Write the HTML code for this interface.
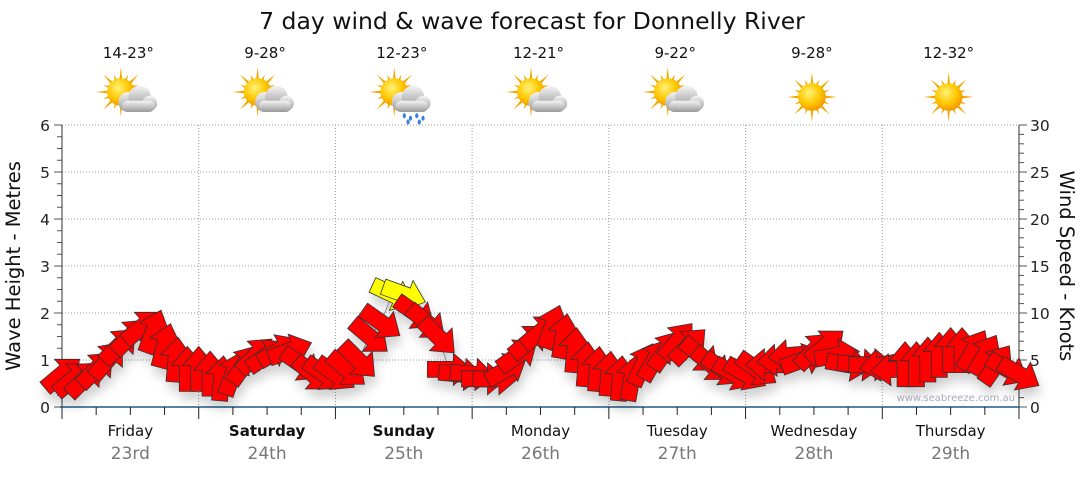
<!DOCTYPE html>
<html><head><meta charset="utf-8"><style>
body{margin:0;background:#fff;width:1080px;height:475px;overflow:hidden;font-family:"DejaVu Sans",sans-serif}
svg text{font-family:"DejaVu Sans",sans-serif}
</style></head><body>
<svg id="c" width="1080" height="475" xmlns="http://www.w3.org/2000/svg">
<defs>
<radialGradient id="sunG" cx="40%" cy="35%" r="65%"><stop offset="0" stop-color="#fff27a"/><stop offset="0.6" stop-color="#ffc800"/><stop offset="1" stop-color="#f29a00"/></radialGradient>
<linearGradient id="cloudG" x1="0" y1="0" x2="0" y2="1"><stop offset="0" stop-color="#f4f4f4"/><stop offset="1" stop-color="#999"/></linearGradient>
<filter id="sh" x="-50%" y="-50%" width="200%" height="200%"><feDropShadow dx="2" dy="8" stdDeviation="5" flood-color="#000" flood-opacity="0.18"/></filter>
</defs>
<text x="532" y="29" font-size="23.5" text-anchor="middle" fill="#111">7 day wind &amp; wave forecast for Donnelly River</text>
<g id="grid"></g><g id="axes"></g><g id="icons"></g><g id="marks" filter="url(#sh)"></g>
<text x="1015" y="401" font-size="10" text-anchor="end" fill="#aab">www.seabreeze.com.au</text>
<text transform="translate(20,266) rotate(-90)" font-size="19.5" text-anchor="middle" fill="#111">Wave Height - Metres</text>
<text transform="translate(1060,266) rotate(90)" font-size="19.5" text-anchor="middle" fill="#111">Wind Speed - Knots</text>
</svg>
<script>
const days=["Friday","Saturday","Sunday","Monday","Tuesday","Wednesday","Thursday"];
const dates=["23rd","24th","25th","26th","27th","28th","29th"];
const temps=["14-23°","9-28°","12-23°","12-21°","9-22°","9-28°","12-32°"];
const weather=["cloud","cloud","rain","cloud","cloud","sun","sun"];
const leftTicks=[0,1,2,3,4,5,6];
const rightTicks=[0,5,10,15,20,25,30];
// wave height every 2 hours (85 points)
const waveHeight=[0.7,0.6,0.6,0.8,1.0,1.3,1.5,1.7,1.6,1.3,1.0,0.8,
0.8,0.7,0.6,0.7,0.9,1.1,1.1,1.2,1.2,0.9,0.7,0.7,
0.7,0.8,1.0,1.5,1.8,2.4,2.4,2.0,1.8,1.5,0.8,0.7,
0.7,0.6,0.6,0.8,1.1,1.4,1.6,1.7,1.5,1.2,0.9,0.8,
0.7,0.6,0.6,0.9,1.0,1.2,1.4,1.3,1.1,0.9,0.8,0.7,
0.7,0.8,0.9,1.0,1.1,1.0,1.2,1.3,1.1,0.9,0.9,0.9,
0.9,0.8,0.9,0.9,1.0,1.1,1.2,1.2,1.2,1.1,0.9,0.8,0.7];
// arrow direction (screen degrees, 0 = pointing right)
const windDir=[-40,-40,-45,-45,-50,-45,-45,-40,-70,-75,-85,-90,
-90,-90,-85,-70,-55,-45,-35,-30,-20,35,40,35,
35,40,45,40,35,25,20,35,40,45,0,5,
5,0,0,-30,-35,-40,-40,-70,-80,-85,-85,-85,
-85,-85,-80,-65,-60,-55,-50,-45,40,40,35,30,
30,35,180,175,175,-20,-45,-40,-10,10,5,0,
170,175,-90,-90,-90,-90,-90,-90,-60,-60,-55,30,30];
const X0=62,X1=1019,Y0=407,Y1=125;
const dayW=(X1-X0)/7;
const xPt=i=>X0+i*dayW/12;
const yW=v=>Y0-v*(Y0-Y1)/6;
const yK=v=>Y0-v*(Y0-Y1)/30;
const NS="http://www.w3.org/2000/svg";
function mk(t,a,p){const e=document.createElementNS(NS,t);for(const k in a)e.setAttribute(k,a[k]);if(p)p.appendChild(e);return e;}
const grid=document.getElementById('grid'),axes=document.getElementById('axes'),icons=document.getElementById('icons'),marks=document.getElementById('marks');
leftTicks.forEach(v=>{
 if(v>0){const g=mk('line',{x1:X0,x2:X1,y1:yW(v),y2:yW(v),stroke:'#999','stroke-dasharray':'1,2'},grid);
 
 }
 const t=mk('text',{x:50,y:yW(v)+6,'font-size':15.5,'text-anchor':'end',fill:'#222'},axes);t.textContent=v;
 
 
});
for(let k=0;k<=24;k++){const y=yW(k*0.25);mk('line',{x1:X0,x2:X0-(k%4==0?8:5),y1:y,y2:y,stroke:'#555'},axes);}
rightTicks.forEach(v=>{
 const t=mk('text',{x:1030,y:yK(v)+6,'font-size':15.5,fill:'#222'},axes);t.textContent=v;
 
 
});
for(let k=0;k<=30;k++){const y=yK(k);mk('line',{x1:X1,x2:X1+(k%5==0?8:5),y1:y,y2:y,stroke:'#555'},axes);}
mk('line',{x1:X0,x2:X0,y1:Y1,y2:Y0,stroke:'#333'},axes);
mk('line',{x1:X1,x2:X1,y1:Y1,y2:Y0,stroke:'#333'},axes);
mk('line',{x1:X0-2,x2:X1,y1:Y0,y2:Y0,stroke:'#1a5a8a','stroke-width':1.5},axes);
for(let k=0;k<=28;k++){const x=X0+k*dayW/4;mk('line',{x1:x,x2:x,y1:Y0,y2:Y0+(k%4==0?12:8),stroke:'#222'},axes);}
days.forEach((d,i)=>{
 const cx=X0+(i+0.5)*dayW;
 if(i>0){const g=mk('line',{x1:X0+i*dayW,x2:X0+i*dayW,y1:Y1,y2:Y0,stroke:'#999','stroke-dasharray':'1,2'},grid);
 
 }
 const t=mk('text',{x:cx,y:436,'font-size':15,'text-anchor':'middle',fill:'#111','font-weight':(i==1||i==2)?'bold':'normal'},axes);t.textContent=d;
 
 
 const t2=mk('text',{x:cx,y:459,'font-size':17,'text-anchor':'middle',fill:'#777'},axes);t2.textContent=dates[i];
 
 
 const t3=mk('text',{x:cx-2,y:58,'font-size':15,'text-anchor':'middle',fill:'#111'},axes);t3.textContent=temps[i];
 
 
 const g=mk('g',{transform:`translate(${cx-2},97) scale(1.25)`},icons);
 
 
 const sun=weather[i]=='sun';
 const sx=sun?0:-6, sy=sun?0:-4;
 for(let r=0;r<16;r++){const a=r*Math.PI/8,L=r%2?15:20;mk('polygon',{points:`${sx+Math.cos(a-0.14)*9},${sy+Math.sin(a-0.14)*9} ${sx+Math.cos(a)*L},${sy+Math.sin(a)*L} ${sx+Math.cos(a+0.14)*9},${sy+Math.sin(a+0.14)*9}`,fill:'#f5a800'},g);}
 mk('circle',{cx:sx,cy:sy,r:11,fill:'url(#sunG)'},g);
 if(!sun){
  const cg=mk('g',{},g);
  mk('circle',{cx:0,cy:4,r:8,fill:'url(#cloudG)'},cg);
  mk('circle',{cx:9,cy:0,r:9,fill:'url(#cloudG)'},cg);
  mk('circle',{cx:17,cy:5,r:6,fill:'url(#cloudG)'},cg);
  mk('rect',{x:-5,y:3,width:26,height:9,rx:4.5,fill:'url(#cloudG)'},cg);
  if(weather[i]=='rain'){[[2,15],[7,17],[12,15],[17,17],[5,20],[14,20]].forEach(p=>mk('ellipse',{cx:p[0],cy:p[1],rx:1.3,ry:2,fill:'#3a7ee0'},g));}
 }
});
mk('polyline',{points:waveHeight.map((v,i)=>xPt(i)+','+yW(v)).join(' '),fill:'none',stroke:'#888','stroke-width':1},marks);
waveHeight.forEach((v,i)=>{
 const a=mk('polygon',{points:'-22,-8 4,-8 4,-16 23,0 4,16 4,8 -22,8',transform:`translate(${xPt(i)},${yW(v)}) rotate(${windDir[i]})`,fill:v>=2.2?'#ffff00':'#ff0000',stroke:'#333','stroke-width':0.8},marks);
 
 
});
</script>
</body></html>
